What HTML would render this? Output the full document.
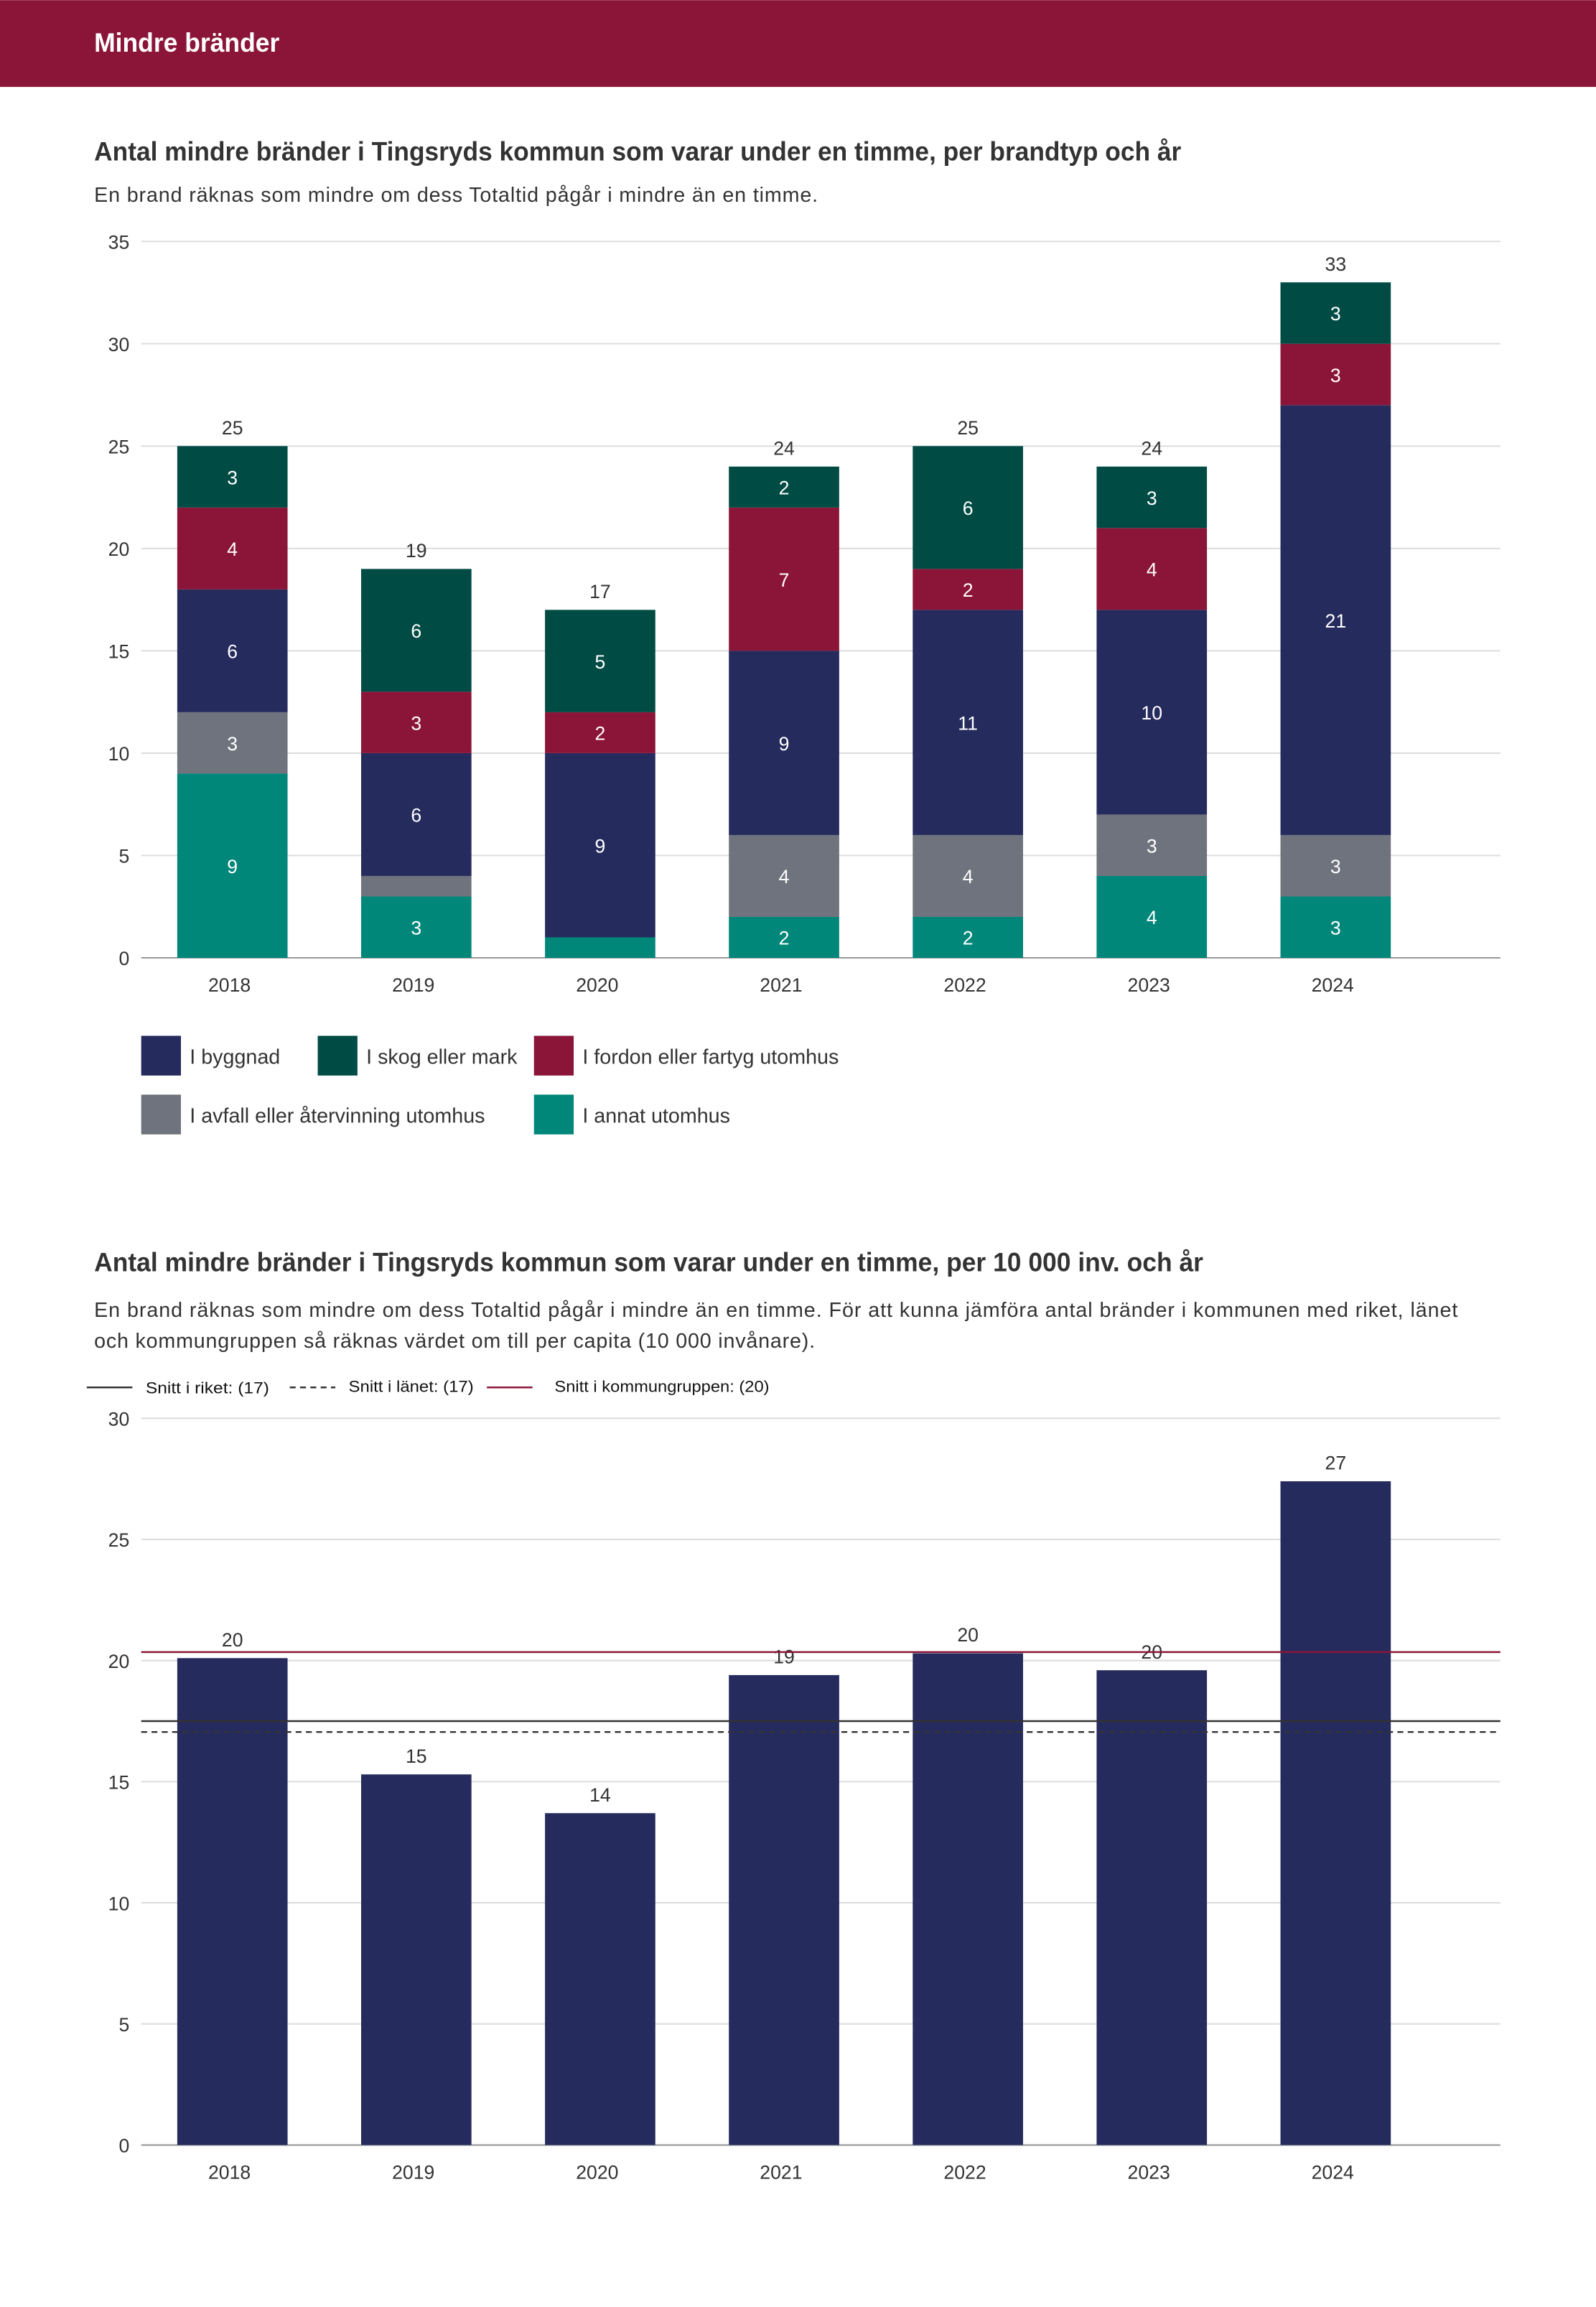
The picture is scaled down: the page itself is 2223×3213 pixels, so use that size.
<!DOCTYPE html>
<html><head><meta charset="utf-8">
<style>
html,body{margin:0;padding:0;background:#fff;}
svg{display:block;font-family:"Liberation Sans",sans-serif;}
</style></head>
<body>
<svg id="root" width="2223" height="3213" viewBox="0 0 1085 1568" xmlns="http://www.w3.org/2000/svg">
<rect x="0" y="0" width="1085" height="59" fill="#8b1538"/>
<text x="64" y="35" fill="#fff" font-size="18" font-weight="bold" textLength="126" lengthAdjust="spacingAndGlyphs">Mindre bränder</text>

<text x="64" y="109" fill="#333" font-size="18" font-weight="bold" textLength="739" lengthAdjust="spacingAndGlyphs">Antal mindre bränder i Tingsryds kommun som varar under en timme, per brandtyp och år</text>
<text x="64" y="137" fill="#333" font-size="14" textLength="492" lengthAdjust="spacing">En brand räknas som mindre om dess Totaltid pågår i mindre än en timme.</text>
<g id="c1"></g>
<g id="leg1"></g>

<text x="64" y="864" fill="#333" font-size="18" font-weight="bold" textLength="754" lengthAdjust="spacingAndGlyphs">Antal mindre bränder i Tingsryds kommun som varar under en timme, per 10 000 inv. och år</text>
<text x="64" y="895" fill="#333" font-size="14" textLength="927" lengthAdjust="spacing">En brand räknas som mindre om dess Totaltid pågår i mindre än en timme. För att kunna jämföra antal bränder i kommunen med riket, länet</text>
<text x="64" y="916" fill="#333" font-size="14" textLength="490" lengthAdjust="spacing">och kommungruppen så räknas värdet om till per capita (10 000 invånare).</text>
<g>
<line x1="59" y1="943" x2="90" y2="943" stroke="#333" stroke-width="1.2"/>
<text x="99" y="947" font-size="11" fill="#111" textLength="84" lengthAdjust="spacingAndGlyphs">Snitt i riket: (17)</text>
<line x1="197" y1="943" x2="228" y2="943" stroke="#333" stroke-width="1.2" stroke-dasharray="4,3"/>
<text x="237" y="946" font-size="11" fill="#111" textLength="85" lengthAdjust="spacingAndGlyphs">Snitt i länet: (17)</text>
<line x1="331" y1="943" x2="362" y2="943" stroke="#8b1538" stroke-width="1.2"/>
<text x="377" y="946" font-size="11" fill="#111" textLength="146" lengthAdjust="spacingAndGlyphs">Snitt i kommungruppen: (20)</text>
</g>
<g id="c2"></g>
</svg>
<script>
const NS="http://www.w3.org/2000/svg";
const years=["2018","2019","2020","2021","2022","2023","2024"];
const seriesNames=["I annat utomhus","I avfall eller återvinning utomhus","I byggnad","I fordon eller fartyg utomhus","I skog eller mark"];
const annat=[9,3,1,2,2,4,3];
const avfall=[3,1,0,4,4,3,3];
const byggnad=[6,6,9,9,11,10,21];
const fordon=[4,3,2,7,2,4,3];
const skog=[3,6,5,2,6,3,3];
const yTicks1=[0,5,10,15,20,25,30,35];
const perCapita=[20.1,15.3,13.7,19.4,20.3,19.6,27.4];
const yTicks2=[0,5,10,15,20,25,30];
const riket=17.5, lanet=17.05, kommungrupp=20.35;
const colors=["#00877a","#6e737d","#262b5e","#8b1538","#004c45"];

function mk(tag,attrs,parent,txt){const e=document.createElementNS(NS,tag);for(const k in attrs)e.setAttribute(k,attrs[k]);if(txt!==undefined)e.textContent=txt;parent.appendChild(e);return e;}

// chart 1
const c1=document.getElementById('c1');
const y1=v=>651-v*(487/35);
const x1=i=>158+i*125;
yTicks1.forEach(t=>{
  const l=mk('line',{x1:96,x2:1020,y1:y1(t),y2:y1(t),stroke:t===0?'#999':'#ddd','stroke-width':1},c1);
  
  
  const tx=mk('text',{x:88,y:y1(t)+5,'text-anchor':'end','font-size':13,fill:'#333'},c1,t);
  
  
});
const stacks=[annat,avfall,byggnad,fordon,skog];
years.forEach((yr,i)=>{
  let acc=0;
  stacks.forEach((s,k)=>{
    const v=s[i]; if(v<=0)return;
    const r=mk('rect',{x:x1(i)-37.5,width:75,y:y1(acc+v),height:y1(acc)-y1(acc+v),fill:colors[k]},c1);
    
    
    if(v>=2){
      const t=mk('text',{x:x1(i),y:(y1(acc)+y1(acc+v))/2+5,'text-anchor':'middle','font-size':13,fill:'#fff'},c1,v);
      
      
    }
    acc+=v;
  });
  const tot=mk('text',{x:x1(i),y:y1(acc)-8,'text-anchor':'middle','font-size':13,fill:'#333'},c1,acc);
  
  
  const xl=mk('text',{x:x1(i)-2,y:674,'text-anchor':'middle','font-size':13,fill:'#333'},c1,yr);
  
  
});
// legend 1
const leg=document.getElementById('leg1');
const legItems=[[2,96,704],[4,216,704],[3,363,704],[1,96,744],[0,363,744]];
legItems.forEach(([k,x,y])=>{
  const g=mk('g',{},leg);
  
  
  mk('rect',{x:x,y:y,width:27,height:27,fill:colors[k]},g);
  mk('text',{x:x+33,y:y+19,'font-size':14,fill:'#333'},g,seriesNames[k]);
});

// chart 2
const c2=document.getElementById('c2');
const y2=v=>1458-v*(494/30);
yTicks2.forEach(t=>{
  const l=mk('line',{x1:96,x2:1020,y1:y2(t),y2:y2(t),stroke:t===0?'#999':'#ddd','stroke-width':1},c2);
  
  
  const tx=mk('text',{x:88,y:y2(t)+5,'text-anchor':'end','font-size':13,fill:'#333'},c2,t);
  
  
});
years.forEach((yr,i)=>{
  const v=perCapita[i];
  const r=mk('rect',{x:x1(i)-37.5,width:75,y:y2(v),height:y2(0)-y2(v),fill:'#262b5e'},c2);
  
  
  const t=mk('text',{x:x1(i),y:y2(v)-8,'text-anchor':'middle','font-size':13,fill:'#333'},c2,Math.round(v));
  
  
  const xl=mk('text',{x:x1(i)-2,y:1481,'text-anchor':'middle','font-size':13,fill:'#333'},c2,yr);
  
  
});
const lr=mk('line',{x1:96,x2:1020,y1:y2(riket),y2:y2(riket),stroke:'#333','stroke-width':1.2},c2);


const ll=mk('line',{x1:96,x2:1020,y1:y2(lanet),y2:y2(lanet),stroke:'#333','stroke-width':1.2,'stroke-dasharray':'4,3'},c2);


const lk=mk('line',{x1:96,x2:1020,y1:y2(kommungrupp),y2:y2(kommungrupp),stroke:'#8b1538','stroke-width':1.2},c2);


</script>
</body></html>
